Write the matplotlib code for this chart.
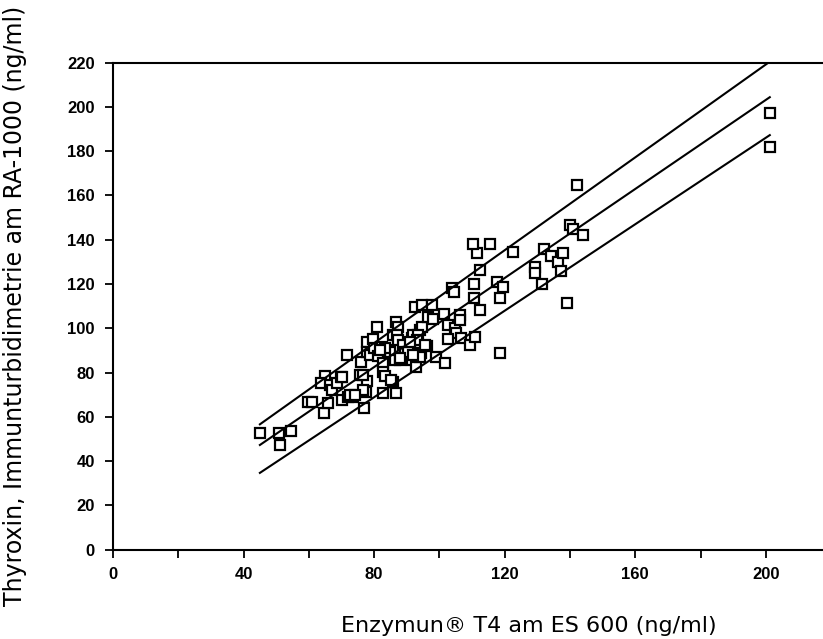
import matplotlib
matplotlib.use("Agg")
import matplotlib.pyplot as plt
from matplotlib import font_manager
import numpy as np

# --- data ---
enzymun_x = [45.0, 50.9, 51.1, 54.5, 59.6, 61.1, 64.7, 65.9, 64.9, 63.6, 66.5, 67.0, 68.5, 69.8,
             70.3, 71.9, 73.4, 71.8, 75.6, 76.0, 77.0, 77.5, 77.7, 77.7, 79.7, 80.8, 77.7, 78.7,
             80.0, 81.3, 82.3, 82.8, 82.8, 83.3, 82.8, 85.9, 86.7, 83.8, 84.8, 86.6, 87.4, 85.7,
             86.9, 87.4, 86.4, 87.9, 88.9, 89.4, 91.5, 92.0, 91.0, 91.5, 92.8, 92.5, 94.8, 97.6,
             94.0, 94.8, 96.1, 94.5, 94.0, 96.6, 98.1, 98.8, 101.7, 101.5, 102.7, 103.7, 104.4,
             104.7, 105.0, 102.7, 106.3, 106.3, 106.6, 109.3, 110.9, 110.7, 110.7, 112.4, 111.4,
             110.4, 115.5, 112.4, 117.5, 119.5, 118.5, 118.5, 122.4, 129.2, 129.2, 131.3, 132.0,
             134.2, 136.2, 137.2, 137.9, 139.0, 140.0, 141.0, 144.0, 142.0, 201.2, 201.2,
             83.3, 93.5, 93.0, 95.6, 90.4, 92.0, 87.9, 85.3, 76.7, 70.0, 76.7, 72.6, 74.1, 81.8, 91.0]
ra1000_y = [52.5, 52.5, 47.3, 53.6, 66.8, 66.8, 61.6, 66.4, 78.6, 75.1, 74.4, 72.1, 75.5, 77.9,
            67.6, 68.8, 68.8, 87.9, 78.9, 84.9, 64.1, 71.4, 76.0, 93.9, 95.2, 100.7, 89.4, 87.9,
            91.0, 87.5, 91.7, 84.2, 80.4, 78.4, 70.6, 75.9, 70.9, 90.2, 89.4, 103.0, 100.7, 97.0,
            97.0, 94.7, 85.7, 85.7, 92.5, 89.4, 95.5, 97.0, 89.4, 85.7, 82.4, 109.8, 110.5, 110.5,
            99.2, 100.7, 92.0, 88.7, 87.2, 105.2, 104.1, 87.2, 84.2, 106.5, 101.5, 118.1, 116.6,
            100.0, 97.7, 95.0, 106.0, 103.7, 95.5, 92.5, 96.2, 113.6, 120.0, 126.3, 133.9,
            138.1, 138.1, 108.3, 121.0, 118.8, 113.6, 89.0, 134.6, 127.8, 124.8, 120.0, 135.7,
            132.7, 130.1, 125.9, 133.9, 111.6, 146.7, 144.7, 142.2, 164.8, 197.4, 181.8,
            91.0, 97.0, 94.7, 92.5, 89.4, 87.9, 86.4, 76.6, 78.9, 78.1, 72.1, 69.9, 69.9, 90.2, 94.0]

# regression line and its bounds: (intercept, slope)
line_names = ["upper", "regression", "lower"]
line_intercepts = [9.4, 2.0, -9.3]
line_slopes = [1.049, 1.006, 0.977]
line_x_range = [45.0, 201.2]

x_ticks_major = [0, 40, 80, 120, 160, 200]
x_ticks_minor = [20, 60, 100, 140, 180]
y_ticks = list(range(0, 221, 20))

xlabel = "Enzymun\u00ae T4 am ES 600 (ng/ml)"
ylabel = "Thyroxin, Immunturbidimetrie am RA-1000 (ng/ml)"

# --- fonts ---
def find_bold_font():
    for f in font_manager.fontManager.ttflist:
        if f.name == 'Liberation Sans' and 'Narrow' not in f.fname and f.weight in (700, 'bold') \
                and f.style == 'normal':
            return font_manager.FontProperties(fname=f.fname, size=12)
    return font_manager.FontProperties(family='DejaVu Sans', weight='bold', size=10.5)

tick_font = find_bold_font()

# --- plot ---
plt.rcParams['font.family'] = ['DejaVu Sans']
fig = plt.figure(figsize=(8.23, 6.39), dpi=100)
ax = fig.add_axes([0.1373, 0.1399, 1 - 0.1373, 0.762])

ax.plot(enzymun_x, ra1000_y, linestyle='none', marker='s', markersize=7,
        markerfacecolor='white', markeredgecolor='black', markeredgewidth=1.6)

xr = np.array(line_x_range)
for b, m in zip(line_intercepts, line_slopes):
    ax.plot(xr, b + m * xr, color='black', linewidth=1.5)

ax.set_xlim(0, 217.5)
ax.set_ylim(0, 220)
ax.set_xticks(x_ticks_major)
ax.set_xticks(x_ticks_minor, minor=True)
ax.set_yticks(y_ticks)
ax.tick_params(axis='both', which='both', direction='out', length=6, width=1.3)
ax.tick_params(axis='x', which='major', pad=6.5)
ax.tick_params(axis='y', pad=7)
for lbl in ax.get_xticklabels() + ax.get_yticklabels():
    lbl.set_fontproperties(tick_font)

ax.spines['right'].set_visible(False)
for s in ['left', 'bottom', 'top']:
    ax.spines[s].set_linewidth(1.5)

ax.set_xlabel(xlabel, fontsize=16)
ax.set_ylabel(ylabel, fontsize=17)
ax.xaxis.set_label_coords(0.586, -0.136)
ax.yaxis.set_label_coords(-0.121, 0.5)

fig.savefig("out.png", dpi=100)
